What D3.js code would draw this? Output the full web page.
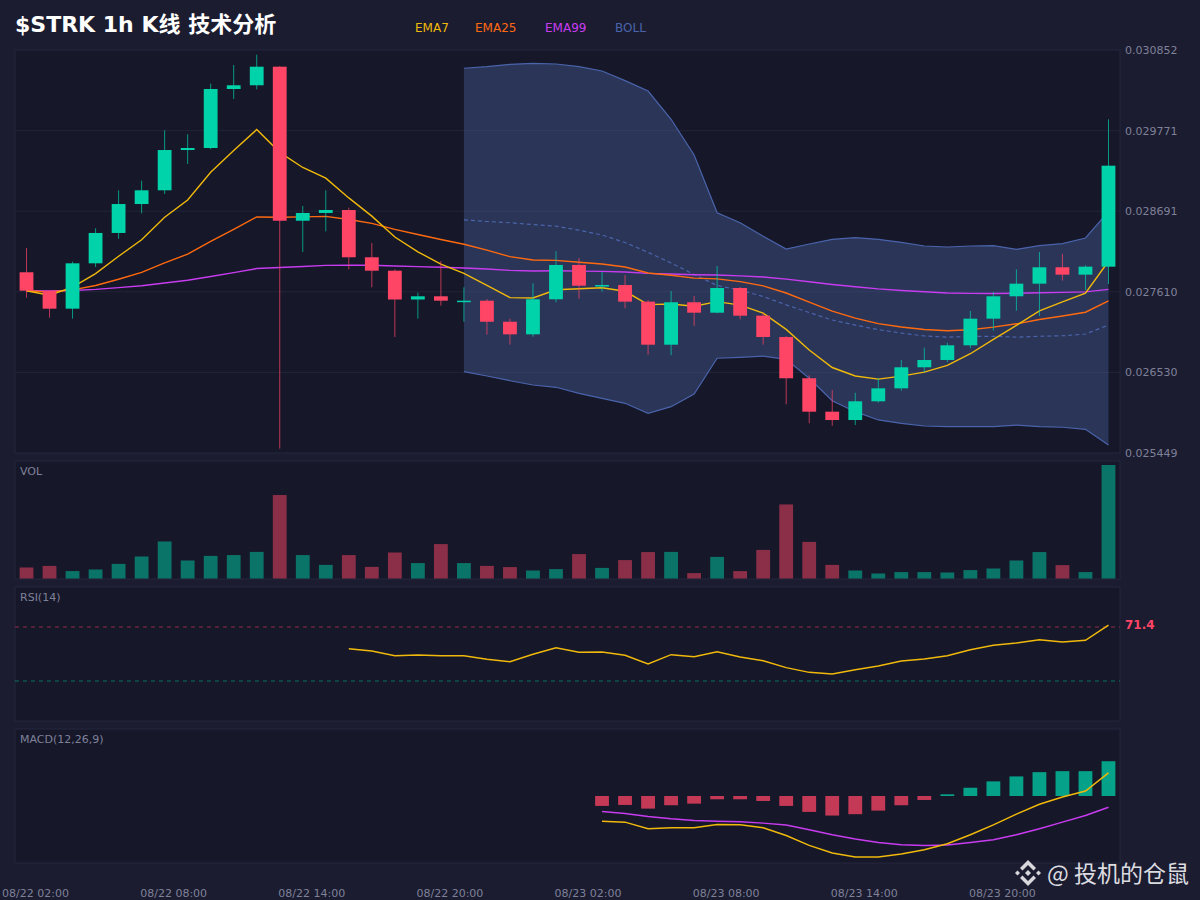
<!DOCTYPE html>
<html lang="zh">
<head>
<meta charset="UTF-8">
<title>$STRK 1h K线 技术分析</title>
<script src="https://cdn.jsdelivr.net/npm/d3@7/dist/d3.min.js"></script>
<style>
  body { margin: 0; background: #1b1c30; }
  text { font-family: "DejaVu Sans", "Noto Sans CJK SC", sans-serif; }
</style>
</head>
<body>
<div id="chart"></div>
<script>
// ---- data (48 hourly candles, 08/22 02:00 onwards) ----
var timeLabels = ['08/22 02:00', '08/22 08:00', '08/22 14:00', '08/22 20:00',
                  '08/23 02:00', '08/23 08:00', '08/23 14:00', '08/23 20:00'];
var labelEvery = 6;
var priceTicks = ['0.030852', '0.029771', '0.028691', '0.027610', '0.026530', '0.025449'];

var open = [0.027872, 0.027625, 0.027384, 0.027992, 0.028399, 0.028787, 0.028971, 0.029511,
            0.029538, 0.030329, 0.030379, 0.030628, 0.028563, 0.028667, 0.028707, 0.028073,
            0.027893, 0.027507, 0.027550, 0.027487, 0.027491, 0.027209, 0.027040, 0.027510,
            0.027970, 0.027692, 0.027701, 0.027478, 0.026901, 0.027470, 0.027330, 0.027661,
            0.027290, 0.027004, 0.026451, 0.026003, 0.025891, 0.026142, 0.026316, 0.026598,
            0.026696, 0.026893, 0.027250, 0.027550, 0.027719, 0.027939, 0.027840, 0.027947];
var high = [0.028197, 0.027625, 0.028014, 0.028462, 0.028971, 0.029100, 0.029775, 0.029722,
            0.030400, 0.030651, 0.030789, 0.030638, 0.028761, 0.028971, 0.028738, 0.028265,
            0.027912, 0.027598, 0.028023, 0.027671, 0.027514, 0.027250, 0.027724, 0.028153,
            0.028063, 0.027876, 0.027835, 0.027500, 0.027621, 0.027554, 0.027956, 0.027675,
            0.027322, 0.027018, 0.026491, 0.026294, 0.026257, 0.026451, 0.026696, 0.026861,
            0.026928, 0.027353, 0.027608, 0.027912, 0.028144, 0.028117, 0.027966, 0.029923];
var low = [0.027531, 0.027263, 0.027250, 0.027943, 0.028322, 0.028663, 0.028921, 0.029324,
           0.029521, 0.030195, 0.030325, 0.025507, 0.028144, 0.028421, 0.027912, 0.027671,
           0.027004, 0.027250, 0.027424, 0.027209, 0.027035, 0.026901, 0.027008, 0.027469,
           0.027518, 0.027612, 0.027389, 0.026767, 0.026759, 0.027152, 0.027322, 0.027242,
           0.026901, 0.026102, 0.025847, 0.025815, 0.025824, 0.026123, 0.026284, 0.026531,
           0.026669, 0.026853, 0.027089, 0.027357, 0.027286, 0.027759, 0.027634, 0.027715];
var close = [0.027625, 0.027384, 0.027992, 0.028399, 0.028787, 0.028971, 0.029511, 0.029538,
             0.030329, 0.030379, 0.030628, 0.028563, 0.028667, 0.028707, 0.028073, 0.027893,
             0.027507, 0.027550, 0.027491, 0.027491, 0.027209, 0.027040, 0.027510, 0.027970,
             0.027692, 0.027701, 0.027478, 0.026901, 0.027470, 0.027330, 0.027661, 0.027290,
             0.027004, 0.026451, 0.026003, 0.025891, 0.026142, 0.026316, 0.026598, 0.026696,
             0.026893, 0.027250, 0.027550, 0.027719, 0.027939, 0.027840, 0.027947, 0.029301];

// volume, millions
var volume = [0.55, 0.63, 0.37, 0.45, 0.73, 1.10, 1.85, 0.90, 1.13, 1.17, 1.33, 4.17,
              1.17, 0.68, 1.17, 0.58, 1.30, 0.77, 1.72, 0.77, 0.63, 0.57, 0.40, 0.47,
              1.22, 0.53, 0.92, 1.32, 1.33, 0.27, 1.08, 0.37, 1.43, 3.70, 1.83, 0.68,
              0.40, 0.25, 0.32, 0.32, 0.30, 0.42, 0.50, 0.90, 1.32, 0.67, 0.32, 5.67];

var ema7 = [0.027625, 0.027565, 0.027672, 0.027854, 0.028087, 0.028308, 0.028609, 0.028841,
            0.029213, 0.029505, 0.029785, 0.029480, 0.029277, 0.029134, 0.028869, 0.028625,
            0.028345, 0.028146, 0.027982, 0.027858, 0.027696, 0.027532, 0.027527, 0.027637,
            0.027651, 0.027664, 0.027617, 0.027438, 0.027446, 0.027417, 0.027478, 0.027431,
            0.027324, 0.027106, 0.026830, 0.026595, 0.026482, 0.026440, 0.026480, 0.026534,
            0.026623, 0.026780, 0.026972, 0.027159, 0.027354, 0.027475, 0.027593, 0.028020];
var ema25 = [0.027625, 0.027607, 0.027636, 0.027695, 0.027779, 0.027870, 0.027997, 0.028115,
             0.028285, 0.028446, 0.028614, 0.028610, 0.028615, 0.028622, 0.028580, 0.028527,
             0.028448, 0.028379, 0.028311, 0.028248, 0.028168, 0.028081, 0.028037, 0.028032,
             0.028006, 0.027982, 0.027943, 0.027863, 0.027833, 0.027794, 0.027784, 0.027746,
             0.027689, 0.027594, 0.027471, 0.027350, 0.027257, 0.027184, 0.027139, 0.027105,
             0.027089, 0.027101, 0.027136, 0.027181, 0.027239, 0.027285, 0.027336, 0.027487];
var ema99 = [0.027625, 0.027620, 0.027628, 0.027643, 0.027666, 0.027692, 0.027728, 0.027765,
             0.027816, 0.027867, 0.027922, 0.027935, 0.027950, 0.027965, 0.027967, 0.027966,
             0.027956, 0.027948, 0.027939, 0.027930, 0.027916, 0.027898, 0.027890, 0.027892,
             0.027888, 0.027884, 0.027876, 0.027857, 0.027849, 0.027839, 0.027835, 0.027824,
             0.027808, 0.027780, 0.027745, 0.027708, 0.027677, 0.027649, 0.027628, 0.027610,
             0.027595, 0.027589, 0.027588, 0.027590, 0.027597, 0.027602, 0.027609, 0.027643];

// BOLL(20,2) starts at candle 19
var bollStart = 19;
var bollUp = [0.030607, 0.030628, 0.030660, 0.030674, 0.030664, 0.030628, 0.030571, 0.030441,
              0.030302, 0.029923, 0.029444, 0.028671, 0.028537, 0.028354, 0.028184, 0.028251,
              0.028314, 0.028336, 0.028314, 0.028274, 0.028224, 0.028211, 0.028224, 0.028228,
              0.028180, 0.028228, 0.028255, 0.028332, 0.028684];
var bollMid = [0.028574, 0.028553, 0.028536, 0.028512, 0.028491, 0.028436, 0.028372, 0.028271,
               0.028139, 0.027996, 0.027843, 0.027695, 0.027631, 0.027548, 0.027435, 0.027332,
               0.027232, 0.027164, 0.027102, 0.027057, 0.027018, 0.027002, 0.027012, 0.027014,
               0.027002, 0.027014, 0.027021, 0.027044, 0.027165];
var bollLow = [0.026539, 0.026481, 0.026418, 0.026361, 0.026330, 0.026249, 0.026182, 0.026115,
               0.025981, 0.026070, 0.026240, 0.026719, 0.026732, 0.026749, 0.026705, 0.026451,
               0.026150, 0.026003, 0.025892, 0.025847, 0.025811, 0.025802, 0.025802, 0.025802,
               0.025824, 0.025802, 0.025794, 0.025767, 0.025556];

// RSI(14) starts at candle 14
var rsiStart = 14;
var rsi = [53.9, 52.2, 48.7, 49.3, 48.7, 48.7, 46.1, 44.3, 49.8, 54.7, 51.3, 51.5,
           49.0, 42.6, 49.5, 48.0, 51.7, 47.8, 45.0, 39.9, 36.4, 35.2, 38.4, 41.1,
           44.8, 46.3, 48.7, 53.2, 56.4, 58.1, 60.6, 58.9, 60.1, 71.4];
var rsiLevels = [70, 30];

// MACD(12,26,9) starts at candle 25
var macdStart = 25;
var dif = [-0.000253, -0.000263, -0.000330, -0.000320, -0.000320, -0.000287, -0.000290, -0.000320,
           -0.000397, -0.000497, -0.000573, -0.000613, -0.000613, -0.000583, -0.000540, -0.000480,
           -0.000390, -0.000290, -0.000183, -0.000083, -0.000010, 0.000050, 0.000233];
var dea = [-0.000157, -0.000177, -0.000207, -0.000230, -0.000247, -0.000253, -0.000260, -0.000273,
           -0.000293, -0.000340, -0.000390, -0.000433, -0.000467, -0.000490, -0.000497, -0.000493,
           -0.000467, -0.000440, -0.000390, -0.000330, -0.000263, -0.000197, -0.000113];
var hist = [-0.000100, -0.000090, -0.000127, -0.000093, -0.000077, -0.000033, -0.000033, -0.000050,
            -0.000100, -0.000160, -0.000197, -0.000183, -0.000147, -0.000093, -0.000040, 0.000017,
            0.000083, 0.000147, 0.000197, 0.000240, 0.000250, 0.000250, 0.000350];

// ---- colours ----
var UP = '#00d2aa', DOWN = '#ff4566';
var C_EMA7 = '#f0b90b', C_EMA25 = '#ff6a10', C_EMA99 = '#c83cf0', C_BOLL = '#4a64ac';
var TXT = '#7f8199';

var W = 1200, H = 900, L = 15, R = 1120;
var pMain = {top: 50, bottom: 453}, pVol = {top: 461, bottom: 579},
    pRsi = {top: 587, bottom: 721}, pMacd = {top: 729, bottom: 863};

var svg = d3.select('#chart').append('svg')
  .attr('width', W).attr('height', H).style('background', '#1b1c30');

// panels
[pMain, pVol, pRsi, pMacd].forEach(function(p) {
  svg.append('rect').attr('x', L).attr('y', p.top)
    .attr('width', R - L).attr('height', p.bottom - p.top)
    .attr('fill', '#161729').attr('stroke', '#25273f').attr('stroke-width', 1);
});

var x = d3.scaleBand().domain(d3.range(close.length)).range([L, R])
  .paddingInner(0.4).paddingOuter(0.2);
var cx = function(i) { return x(i) + x.bandwidth() / 2; };

var y = d3.scaleLinear()
  .domain([+priceTicks[priceTicks.length - 1], +priceTicks[0]])
  .range([pMain.bottom, pMain.top]);

// grid
svg.append('g').selectAll('line').data(priceTicks.slice(1, -1).map(Number)).enter()
  .append('line')
  .attr('x1', L).attr('x2', R)
  .attr('y1', function(d) { return y(d); }).attr('y2', function(d) { return y(d); })
  .attr('stroke', '#222439').attr('stroke-width', 1);

// price axis
var yAxis = svg.append('g').attr('transform', 'translate(' + R + ',0)')
  .call(d3.axisRight(y).tickValues(priceTicks.map(Number))
    .tickFormat(function(d, i) { return priceTicks[i]; }).tickSize(0).tickPadding(5));
yAxis.select('.domain').remove();
yAxis.selectAll('text').attr('fill', TXT).style('font-size', '11px');

// bollinger band
var bIdx = d3.range(bollUp.length);
svg.append('path').datum(bIdx)
  .attr('d', d3.area()
    .x(function(j) { return cx(j + bollStart); })
    .y0(function(j) { return y(bollLow[j]); })
    .y1(function(j) { return y(bollUp[j]); }))
  .attr('fill', 'rgb(92,123,198)').attr('fill-opacity', 0.3);

function bLine(arr) {
  return d3.line().x(function(j) { return cx(j + bollStart); })
    .y(function(j) { return y(arr[j]); });
}
svg.append('path').datum(bIdx).attr('d', bLine(bollUp))
  .attr('fill', 'none').attr('stroke', C_BOLL).attr('stroke-width', 1.2);
svg.append('path').datum(bIdx).attr('d', bLine(bollLow))
  .attr('fill', 'none').attr('stroke', C_BOLL).attr('stroke-width', 1.2);
svg.append('path').datum(bIdx).attr('d', bLine(bollMid))
  .attr('fill', 'none').attr('stroke', C_BOLL).attr('stroke-width', 1.2)
  .attr('stroke-dasharray', '4,3');

// EMA lines
var allIdx = d3.range(close.length);
[[ema99, C_EMA99], [ema25, C_EMA25], [ema7, C_EMA7]].forEach(function(s) {
  svg.append('path').datum(allIdx)
    .attr('d', d3.line().x(cx).y(function(i) { return y(s[0][i]); }))
    .attr('fill', 'none').attr('stroke', s[1]).attr('stroke-width', 1.4);
});

// candles
var isUp = function(i) { return close[i] >= open[i]; };
var candles = svg.append('g').selectAll('g').data(allIdx).enter().append('g');
candles.append('line')
  .attr('x1', cx).attr('x2', cx)
  .attr('y1', function(i) { return y(high[i]); })
  .attr('y2', function(i) { return y(low[i]); })
  .attr('stroke', function(i) { return isUp(i) ? UP : DOWN; })
  .attr('stroke-opacity', 0.7).attr('stroke-width', 1);
candles.append('rect')
  .attr('x', function(i) { return x(i); })
  .attr('width', x.bandwidth())
  .attr('y', function(i) { return y(Math.max(open[i], close[i])); })
  .attr('height', function(i) { return Math.max(1.5, Math.abs(y(open[i]) - y(close[i]))); })
  .attr('fill', function(i) { return isUp(i) ? UP : DOWN; });

// volume
var yVol = d3.scaleLinear().domain([0, d3.max(volume)]).range([pVol.bottom - 0.5, pVol.top + 4]);
svg.append('g').selectAll('rect').data(allIdx).enter().append('rect')
  .attr('x', function(i) { return x(i); })
  .attr('width', x.bandwidth())
  .attr('y', function(i) { return yVol(volume[i]); })
  .attr('height', function(i) { return yVol(0) - yVol(volume[i]); })
  .attr('fill', function(i) { return isUp(i) ? UP : DOWN; })
  .attr('fill-opacity', 0.5);

// RSI
var yRsi = d3.scaleLinear().domain([0, 100]).range([pRsi.bottom + 0.5, pRsi.top - 0.5]);
svg.append('g').selectAll('line').data(rsiLevels).enter().append('line')
  .attr('x1', L).attr('x2', R)
  .attr('y1', function(d) { return yRsi(d); }).attr('y2', function(d) { return yRsi(d); })
  .attr('stroke', function(d) { return d > 50 ? DOWN : UP; })
  .attr('stroke-opacity', 0.5).attr('stroke-dasharray', '4,4');
var rIdx = d3.range(rsi.length);
svg.append('path').datum(rIdx)
  .attr('d', d3.line().x(function(j) { return cx(j + rsiStart); })
    .y(function(j) { return yRsi(rsi[j]); }))
  .attr('fill', 'none').attr('stroke', C_EMA7).attr('stroke-width', 1.5);
svg.append('text').attr('x', R + 5).attr('y', yRsi(rsi[rsi.length - 1]))
  .attr('dy', '0.35em').attr('fill', DOWN)
  .style('font-size', '12px').style('font-weight', 'bold')
  .text(d3.format('.1f')(rsi[rsi.length - 1]));

// MACD
var mMax = d3.max(dif.concat(dea, hist), function(d) { return Math.abs(d); }) * 1.1;
var yMacd = d3.scaleLinear().domain([-mMax, mMax]).range([pMacd.bottom, pMacd.top]);
var mIdx = d3.range(hist.length);
svg.append('g').selectAll('rect').data(mIdx).enter().append('rect')
  .attr('x', function(j) { return x(j + macdStart); })
  .attr('width', x.bandwidth())
  .attr('y', function(j) { return yMacd(Math.max(0, hist[j])); })
  .attr('height', function(j) { return Math.max(1, Math.abs(yMacd(hist[j]) - yMacd(0))); })
  .attr('fill', function(j) { return hist[j] >= 0 ? UP : DOWN; })
  .attr('fill-opacity', 0.75);
[[dea, C_EMA99], [dif, C_EMA7]].forEach(function(s) {
  svg.append('path').datum(mIdx)
    .attr('d', d3.line().x(function(j) { return cx(j + macdStart); })
      .y(function(j) { return yMacd(s[0][j]); }))
    .attr('fill', 'none').attr('stroke', s[1]).attr('stroke-width', 1.5);
});

// panel labels
[['VOL', pVol], ['RSI(14)', pRsi], ['MACD(12,26,9)', pMacd]].forEach(function(d) {
  svg.append('text').attr('x', L + 5).attr('y', d[1].top + 14)
    .attr('fill', TXT).style('font-size', '11px').text(d[0]);
});

// time axis, labels every 6 candles (sit a little right of the candle)
var xAxis = svg.append('g').attr('transform', 'translate(9,886)')
  .call(d3.axisBottom(x)
    .tickValues(d3.range(0, close.length, labelEvery))
    .tickFormat(function(d) { return timeLabels[d / labelEvery]; })
    .tickSize(0).tickPadding(3));
xAxis.select('.domain').remove();
xAxis.selectAll('text').attr('fill', TXT).style('font-size', '11px');

// title + legend
svg.append('text').attr('x', 15).attr('y', 32)
  .attr('fill', '#ffffff').style('font-size', '22px').style('font-weight', 'bold')
  .text('$STRK 1h K线 技术分析');
var legend = [['EMA7', C_EMA7, 415], ['EMA25', C_EMA25, 475], ['EMA99', C_EMA99, 545], ['BOLL', C_BOLL, 615]];
svg.append('g').selectAll('text').data(legend).enter().append('text')
  .attr('x', function(d) { return d[2]; }).attr('y', 32)
  .attr('fill', function(d) { return d[1]; }).style('font-size', '12px')
  .text(function(d) { return d[0]; });

// watermark
var wm = svg.append('g').attr('transform', 'translate(1028,873)').attr('fill', '#d8d8dc');
wm.append('path').attr('d', 'M0,-13L8,-5L5.5,-2.5L0,-8L-5.5,-2.5L-8,-5Z');
wm.append('path').attr('d', 'M0,13L8,5L5.5,2.5L0,8L-5.5,2.5L-8,5Z');
wm.append('path').attr('d', 'M-13,0L-10.5,-2.5L-8,0L-10.5,2.5Z');
wm.append('path').attr('d', 'M13,0L10.5,-2.5L8,0L10.5,2.5Z');
wm.append('path').attr('d', 'M0,-3L3,0L0,3L-3,0Z');
svg.append('text').attr('x', 1047).attr('y', 882)
  .attr('fill', '#dcdce0').style('font-size', '23px')
  .style('font-family', '"Noto Sans CJK SC", "DejaVu Sans", sans-serif')
  .text('@ 投机的仓鼠');
</script>
</body>
</html>
